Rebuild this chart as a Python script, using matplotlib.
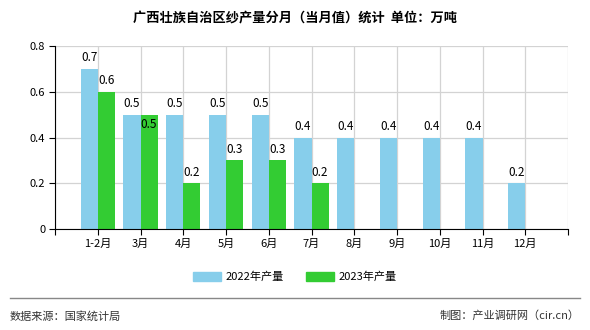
import numpy as np
import matplotlib
matplotlib.use("Agg")
import matplotlib.pyplot as plt
from matplotlib.patches import Patch

plt.rcParams['font.family'] = ['Noto Sans CJK SC', 'DejaVu Sans']

months = ["1-2月", "3月", "4月", "5月", "6月", "7月", "8月", "9月", "10月", "11月", "12月"]
output_2022 = [0.7, 0.5, 0.5, 0.5, 0.5, 0.4, 0.4, 0.4, 0.4, 0.4, 0.2]
output_2023 = [0.6, 0.5, 0.2, 0.3, 0.3, 0.2]
series_names = ["2022年产量", "2023年产量"]
yticks = [0, 0.2, 0.4, 0.6, 0.8]
ytick_labels = ["0", "0.2", "0.4", "0.6", "0.8"]

c22 = "#87CEEB"
c23 = "#33CC33"

fig = plt.figure(figsize=(5.9, 3.3), dpi=100)
ax = fig.add_axes([55/590, 1-229/330, 513/590, 183/330])

x = np.arange(1, len(months)+1)
w = 0.4
x23 = x[:len(output_2023)]
ax.bar(x - w/2, output_2022, width=w, color=c22, zorder=2)
ax.bar(x23 + w/2, output_2023, width=w, color=c23, zorder=2)

for xi, v in zip(x, output_2022):
    ax.text(xi - w/2, v + 0.02, f"{v:.1f}", ha="center", va="bottom", fontsize=8.5, zorder=3)
for i, (xi, v) in enumerate(zip(x23, output_2023)):
    # the source chart pushes a label down when it would sit beside an equal one
    if v == output_2022[i]:
        ax.text(xi + w/2, v - 0.015, f"{v:.1f}", ha="center", va="top", fontsize=8.5, zorder=3)
    else:
        ax.text(xi + w/2, v + 0.02, f"{v:.1f}", ha="center", va="bottom", fontsize=8.5, zorder=3)

ax.set_xlim(0, len(months)+1)
ax.set_ylim(0, 0.8)
ax.set_xticks(np.arange(0, len(months)+2))
ax.set_xticklabels([""] + months + [""], fontsize=8)
ax.set_yticks(yticks)
ax.set_yticklabels(ytick_labels, fontsize=8)
ax.grid(True, color="#d3d3d3", linewidth=0.9, zorder=0)
ax.set_axisbelow(True)
for s in ["top", "right"]:
    ax.spines[s].set_visible(False)
ax.spines["left"].set_color("black")
ax.spines["bottom"].set_color("black")
ax.tick_params(axis="both", length=4, width=0.8, direction="out", pad=3)

fig.text(0.5, 1-18/330, "广西壮族自治区纱产量分月（当月值）统计  单位：万吨",
         ha="center", va="center", fontsize=9.5, fontweight="bold")

handles = [Patch(color=c22), Patch(color=c23)]
fig.legend(handles, series_names, loc="center", bbox_to_anchor=(0.5, 1-277/330),
           ncol=2, frameon=False, fontsize=8, handlelength=2.5, handleheight=0.9,
           columnspacing=2.0, handletextpad=0.4)

fig.add_artist(plt.Line2D([10/590, 580/590], [1-298/330, 1-298/330], color="#888888", linewidth=1))
fig.text(10/590, 1-316/330, "数据来源：国家统计局", ha="left", va="center", fontsize=8, color="#333333")
fig.text(580/590, 1-316/330, "制图：产业调研网（cir.cn）", ha="right", va="center", fontsize=8, color="#333333")

fig.savefig("out.png", dpi=100)
